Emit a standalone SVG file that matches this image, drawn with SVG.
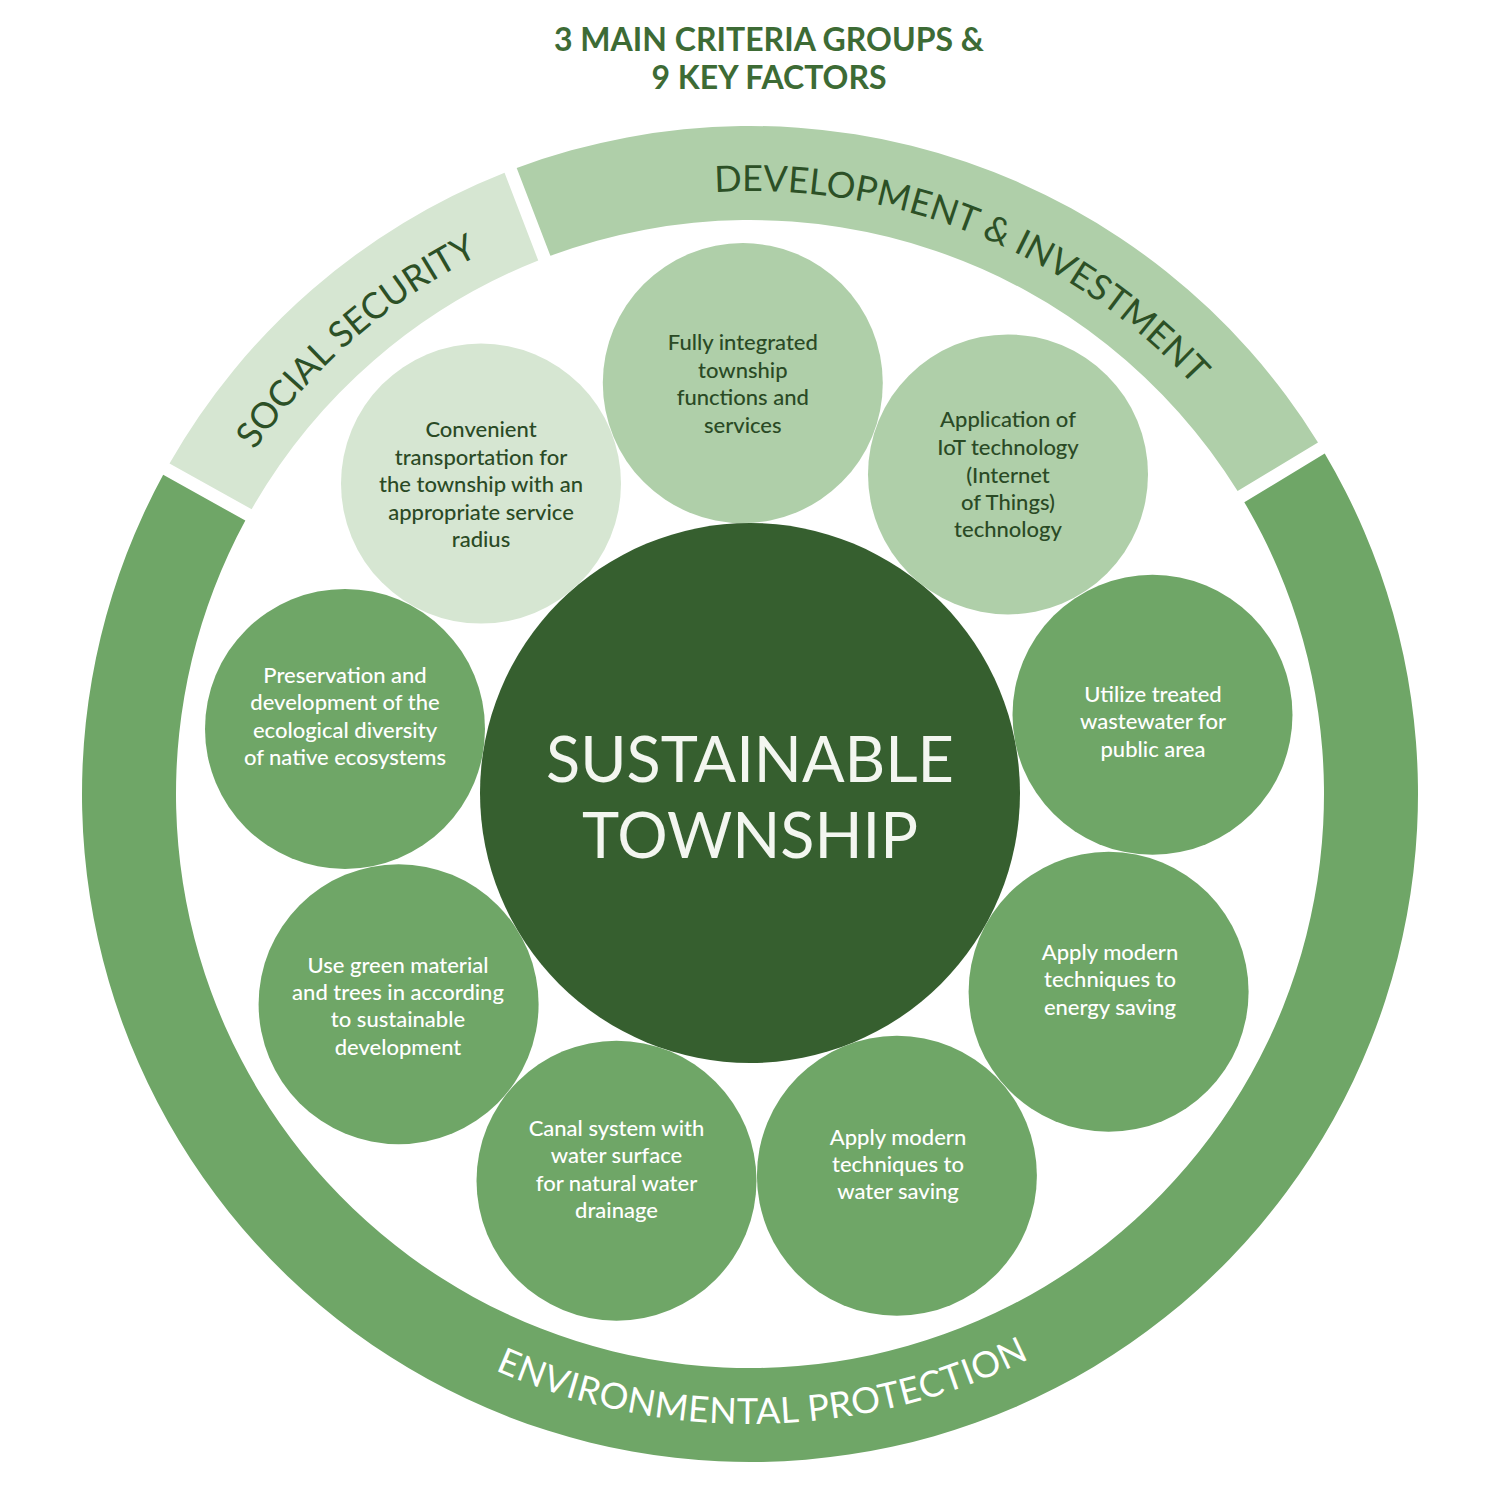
<svg xmlns="http://www.w3.org/2000/svg" xmlns:xlink="http://www.w3.org/1999/xlink" width="1500" height="1501" viewBox="0 0 1500 1501">
<defs>
<style>
.c-light{fill:#d6e6d2}
.c-mid{fill:#afcfa9}
.c-env{fill:#6fa667}
.c-core{fill:#365f2f}
.t{font-family:Lato,"Liberation Sans",sans-serif;text-anchor:middle}
.t-dark{fill:#2a4a25;font-size:22px;font-weight:500}
.t-white{fill:#ffffff;font-size:22px;font-weight:500}
.t-band{font-size:36px}
.t-title{fill:#3d6b35;font-size:32px;font-weight:700}
.t-core{fill:#f3f6f0;font-size:63px}
</style>
<path id="arcDev" d="M 378.76 318.83 A 603 603 0 0 1 1347.13 710.08"/>
<path id="arcSoc" d="M 158.08 909.06 A 603 603 0 0 1 946.32 223.85"/>
<path id="arcEnv" d="M 211.41 1120.83 A 630 630 0 0 0 1302.34 1097.02"/>
</defs>
<rect width="1500" height="1501" fill="#ffffff"/>

<g id="title">
<text class="t t-title" x="769" y="51">3 MAIN CRITERIA GROUPS &amp;</text>
<text class="t t-title" x="769" y="89">9 KEY FACTORS</text>
</g>

<g id="band-development">
<path class="c-mid" d="M 516.69 168.07 A 668 668 0 0 1 1317.99 442.42 L 1237.58 491.11 A 574 574 0 0 0 550.38 255.83 Z"/>
<text class="t t-band" fill="#2c5026"><textPath xlink:href="#arcDev" href="#arcDev" startOffset="50%">DEVELOPMENT &amp; INVESTMENT</textPath></text>
</g>

<g id="band-social">
<path class="c-light" d="M 504.55 172.73 A 668 668 0 0 0 169.51 463.46 L 251.65 509.18 A 574 574 0 0 1 538.24 260.49 Z"/>
<text class="t t-band" fill="#2c5026"><textPath xlink:href="#arcSoc" href="#arcSoc" startOffset="50%">SOCIAL SECURITY</textPath></text>
</g>

<g id="band-environment">
<path class="c-env" d="M 163.19 474.82 A 668 668 0 1 0 1324.72 453.53 L 1244.31 502.23 A 574 574 0 1 1 245.33 520.54 Z"/>
<text class="t t-band" fill="#ffffff" letter-spacing="0.6"><textPath xlink:href="#arcEnv" href="#arcEnv" startOffset="50%">ENVIRONMENTAL PROTECTION</textPath></text>
</g>

<g id="connectors"></g>

<g id="core">
<circle class="c-core" cx="750" cy="793" r="270"/>
<text class="t t-core" x="750" y="782">SUSTAINABLE</text>
<text class="t t-core" x="750" y="858">TOWNSHIP</text>
</g>

<g id="node-integrated">
<circle class="c-mid" cx="742.8" cy="383.1" r="140"/>
<text class="t t-dark" x="742.8" y="350">Fully integrated</text>
<text class="t t-dark" x="742.8" y="378">township</text>
<text class="t t-dark" x="742.8" y="405">functions and</text>
<text class="t t-dark" x="742.8" y="433">services</text>
</g>

<g id="node-iot">
<circle class="c-mid" cx="1008" cy="474.4" r="140"/>
<text class="t t-dark" x="1008" y="427">Application of</text>
<text class="t t-dark" x="1008" y="455">IoT technology</text>
<text class="t t-dark" x="1008" y="483">(Internet</text>
<text class="t t-dark" x="1008" y="510">of Things)</text>
<text class="t t-dark" x="1008" y="537">technology</text>
</g>

<g id="node-transport">
<circle class="c-light" cx="481" cy="483.6" r="140"/>
<text class="t t-dark" x="481" y="437">Convenient</text>
<text class="t t-dark" x="481" y="465">transportation for</text>
<text class="t t-dark" x="481" y="492">the township with an</text>
<text class="t t-dark" x="481" y="520">appropriate service</text>
<text class="t t-dark" x="481" y="547">radius</text>
</g>

<g id="node-ecology">
<circle class="c-env" cx="345" cy="728.9" r="140"/>
<text class="t t-white" x="345" y="683">Preservation and</text>
<text class="t t-white" x="345" y="710">development of the</text>
<text class="t t-white" x="345" y="738">ecological diversity</text>
<text class="t t-white" x="345" y="765">of native ecosystems</text>
</g>

<g id="node-wastewater">
<circle class="c-env" cx="1152.5" cy="714.8" r="140"/>
<text class="t t-white" x="1153" y="702">Utilize treated</text>
<text class="t t-white" x="1153" y="729">wastewater for</text>
<text class="t t-white" x="1153" y="757">public area</text>
</g>

<g id="node-green-material">
<circle class="c-env" cx="398.6" cy="1004.2" r="140"/>
<text class="t t-white" x="398" y="973">Use green material</text>
<text class="t t-white" x="398" y="1000">and trees in according</text>
<text class="t t-white" x="398" y="1027">to sustainable</text>
<text class="t t-white" x="398" y="1055">development</text>
</g>

<g id="node-energy">
<circle class="c-env" cx="1108.6" cy="991.8" r="140"/>
<text class="t t-white" x="1110" y="960">Apply modern</text>
<text class="t t-white" x="1110" y="987">techniques to</text>
<text class="t t-white" x="1110" y="1015">energy saving</text>
</g>

<g id="node-canal">
<circle class="c-env" cx="616.5" cy="1180.7" r="140"/>
<text class="t t-white" x="616.5" y="1136">Canal system with</text>
<text class="t t-white" x="616.5" y="1163">water surface</text>
<text class="t t-white" x="616.5" y="1191">for natural water</text>
<text class="t t-white" x="616.5" y="1218">drainage</text>
</g>

<g id="node-water">
<circle class="c-env" cx="896.9" cy="1175.8" r="140"/>
<text class="t t-white" x="898" y="1145">Apply modern</text>
<text class="t t-white" x="898" y="1172">techniques to</text>
<text class="t t-white" x="898" y="1199">water saving</text>
</g>
</svg>
